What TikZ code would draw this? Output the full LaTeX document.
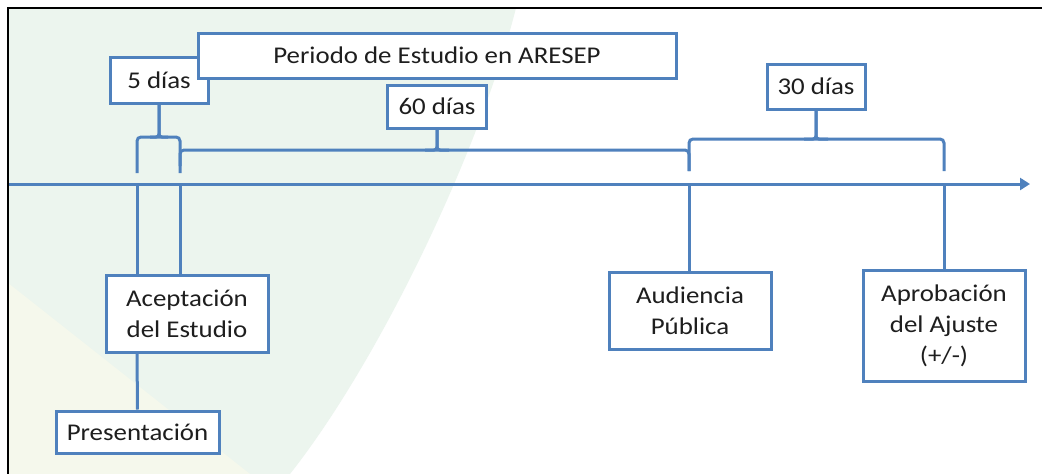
\documentclass[tikz,border=0pt]{standalone}
\usepackage{fontspec}
\setmainfont{Carlito}[FakeStretch=1.12]
\usetikzlibrary{arrows.meta,shadows}
\definecolor{lblue}{HTML}{4F81BD}
\definecolor{bggreen}{HTML}{ECF5EE}
\definecolor{bgyellow}{HTML}{F5F8EC}
\definecolor{txt}{HTML}{1E1E1E}
\begin{document}
\begin{tikzpicture}[x=1pt,y=-1pt,
  box/.style={draw=lblue, line width=3pt, fill=white, inner sep=0pt,
    text=txt, align=center, font=\fontsize{24}{31}\selectfont,
    drop shadow={shadow xshift=1.5pt, shadow yshift=-2pt, opacity=0.35}},
  conn/.style={draw=lblue, line width=3pt},
  brace/.style={draw=lblue, line width=3pt, rounded corners=4pt},
  tip/.style={draw=lblue, line width=3pt, rounded corners=3pt}]
\useasboundingbox (0,0) rectangle (1042,474);
% background
\fill[white] (0,0) rectangle (1042,474);
\fill[bggreen] (8,8) -- (516,8) .. controls (480,150) and (380,360) .. (290,474) -- (8,474) -- cycle;
\fill[bgyellow] (8,283) -- (250,474) -- (8,474) -- cycle;
\draw[black, line width=2pt] (8,474) -- (8,8) -- (1042,8);
% timeline
\coordinate (tstart) at (9,184);
\coordinate (tend) at (1030,184);
\draw[conn, -{Triangle[length=10pt,width=12pt]}] (tstart) -- (tend);
% boxes
\node[box, minimum width=98pt, minimum height=46pt] (fives) at (159,80) {5 días};
\node[box, minimum width=478pt, minimum height=45pt] (periodo) at (437,55.5) {Periodo de Estudio en ARESEP};
\node[box, minimum width=99pt, minimum height=43pt] (sesenta) at (437,106.5) {60 días};
\node[box, minimum width=98pt, minimum height=45pt] (treinta) at (816,86.5) {30 días};
\node[box, minimum width=162pt, minimum height=77pt] (acep) at (187,313.5) {Aceptación\\del Estudio};
\node[box, minimum width=163pt, minimum height=42pt] (pres) at (137.5,432) {Presentación};
\node[box, minimum width=162pt, minimum height=77pt] (aud) at (690,310.5) {Audiencia\\Pública};
\node[box, minimum width=162pt, minimum height=111pt] (aprob) at (944,325.5) {Aprobación\\del Ajuste\\(+/-)};
% timeline points
\coordinate (p1) at (137,184);
\coordinate (p2) at (180,184);
\coordinate (p3) at (689,184);
\coordinate (p4) at (944,184);
% verticals
\draw[conn] (p1) -- (p1 |- acep.north);
\draw[conn] (p2) -- (p2 |- acep.north);
\draw[conn] (p3) -- (p3 |- aud.north);
\draw[conn] (p4) -- (p4 |- aprob.north);
\draw[conn] (p1 |- acep.south) -- (pres.north);
% brace 5 dias
\coordinate (b1a) at (137,173);
\coordinate (b1b) at (180,173);
\draw[brace] (b1a) |- (180,137) -- (b1b);
\draw[tip] (150,137) -| (fives.south);
\draw[tip] (168,137) -| (fives.south);
% brace 60 dias
\coordinate (b2a) at (180,166);
\coordinate (b2b) at (689,171);
\draw[brace] (b2a) |- (689,150) -- (b2b);
\draw[tip] (425,150) -| (sesenta.south);
\draw[tip] (449,150) -| (sesenta.south);
% brace 30 dias
\coordinate (b3a) at (689,171);
\coordinate (b3b) at (944,171);
\draw[brace] (b3a) |- (944,139) -- (b3b);
\draw[tip] (804,139) -| (treinta.south);
\draw[tip] (828,139) -| (treinta.south);
% redraw boxes above connectors
\node[box, minimum width=98pt, minimum height=46pt] at (fives) {5 días};
\node[box, minimum width=478pt, minimum height=45pt] at (periodo) {Periodo de Estudio en ARESEP};
\end{tikzpicture}
\end{document}
